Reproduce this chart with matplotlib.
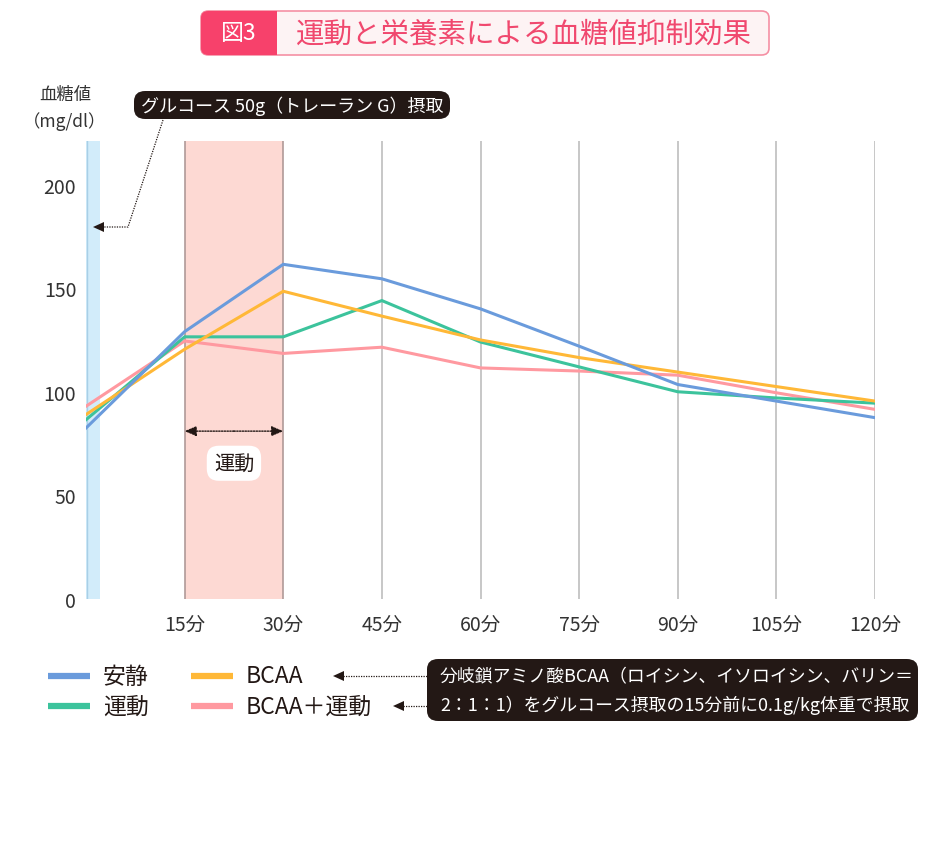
import matplotlib
matplotlib.use("Agg")
import matplotlib.pyplot as plt
from matplotlib.patches import FancyBboxPatch, Polygon

plt.rcParams['font.family'] = ['Noto Sans CJK JP', 'DejaVu Sans']

minutes = [0, 15, 30, 45, 60, 75, 90, 105, 120]
tick_minutes = [15, 30, 45, 60, 75, 90, 105, 120]
tick_labels = ["15分", "30分", "45分", "60分", "75分", "90分", "105分", "120分"]
y_ticks = [0, 50, 100, 150, 200]

series_names = ["安静", "運動", "BCAA", "BCAA＋運動"]
rest = [82.5, 129, 161.5, 154.5, 140, 122, 103.5, 95.5, 87.5]
exercise = [86.5, 126.5, 126.5, 144, 124, 112, 100, 97, 94.5]
bcaa = [89, 120.5, 148.5, 136.5, 125, 116.5, 109.5, 102.5, 95.5]
bcaa_ex = [93, 124.5, 118.5, 121.5, 111.5, 110, 108, 99.5, 91.5]
colors = ["#6a9bdc", "#3cc39c", "#ffb837", "#ff99a0"]

W, H = 933, 854
fig = plt.figure(figsize=(W / 100, H / 100), dpi=100)

def fx(px):
    return px / W

def fy(py):
    return 1 - py / H

ax = fig.add_axes([fx(86), fy(600), fx(875) - fx(86), fy(142) - fy(600)])
ax.set_xlim(0, 120)
ax.set_ylim(0, 221)
for s in ax.spines.values():
    s.set_visible(False)

# bands
ax.axvspan(0, 2.1, color="#d2ecfa", zorder=0, lw=0)
ax.axvline(0.1, color="#a9cfe6", lw=1, zorder=0.5)
ax.axvspan(15, 30, color="#fdd9d3", zorder=0, lw=0)
for m in tick_minutes:
    c = "#b09a98" if m in (15, 30) else "#bdbdbd"
    ax.axvline(m, color=c, lw=1.2, zorder=0.6)

for vals, col in zip([bcaa_ex, exercise, bcaa, rest], [colors[3], colors[1], colors[2], colors[0]]):
    ax.plot(minutes, vals, color=col, lw=2.2, zorder=3, solid_joinstyle="miter")

ax.set_xticks(tick_minutes)
ax.set_xticklabels(tick_labels)
ax.set_yticks(y_ticks)
ax.set_yticklabels([str(v) for v in y_ticks])
ax.tick_params(axis="both", length=0, labelsize=14, colors="#333333")
ax.tick_params(axis="x", pad=11)
ax.tick_params(axis="y", pad=7)

# exercise double arrow
ax.annotate("", xy=(15, 81), xytext=(22.5, 81),
            arrowprops=dict(arrowstyle="-|>,head_length=0.7,head_width=0.3", color="#231815",
                            lw=1, linestyle=(0, (1, 1)), shrinkA=0, shrinkB=0))
ax.annotate("", xy=(30, 81), xytext=(22.5, 81),
            arrowprops=dict(arrowstyle="-|>,head_length=0.7,head_width=0.3", color="#231815",
                            lw=1, linestyle=(0, (1, 1)), shrinkA=0, shrinkB=0))
ax.text(22.5, 65.5, "運動", ha="center", va="center", fontsize=14.5, color="#231815", zorder=5,
        bbox=dict(boxstyle="round,pad=0.35,rounding_size=0.6", fc="white", ec="none"))

# y label
fig.text(fx(65), fy(95), "血糖値", ha="center", va="center", fontsize=12.5, color="#333333")
fig.text(fx(65), fy(122), "（mg/dl）", ha="center", va="center", fontsize=12.5, color="#333333")

# title
fig.patches.append(FancyBboxPatch((fx(201), fy(56)), fx(769) - fx(201), fy(12) - fy(56),
                                  boxstyle="round,pad=0,rounding_size=0.008",
                                  transform=fig.transFigure, fc="#fdf3f4", ec="#f590a4", lw=1.2))
fig.patches.append(FancyBboxPatch((fx(201), fy(56)), fx(277) - fx(201), fy(12) - fy(56),
                                  boxstyle="round,pad=0,rounding_size=0.008",
                                  transform=fig.transFigure, fc="#f7416b", ec="none"))
fig.patches.append(plt.Rectangle((fx(260), fy(56)), fx(277) - fx(260), fy(12) - fy(56),
                                 transform=fig.transFigure, fc="#f7416b", ec="none"))
fig.text(fx(239), fy(34), "図3", ha="center", va="center", fontsize=16.5, color="white")
fig.text(fx(524), fy(34), "運動と栄養素による血糖値抑制効果", ha="center", va="center",
         fontsize=20.5, color="#f0486e")

# glucose annotation
fig.patches.append(FancyBboxPatch((fx(134), fy(120)), fx(450) - fx(134), fy(92) - fy(120),
                                  boxstyle="round,pad=0,rounding_size=0.012",
                                  transform=fig.transFigure, fc="#231815", ec="none"))
fig.text(fx(292), fy(106), "グルコース 50g（トレーラン G）摂取", ha="center", va="center",
         fontsize=13, color="white")
fig.lines.append(plt.Line2D([fx(163), fx(128), fx(104)], [fy(121), fy(228), fy(228)],
                            transform=fig.transFigure, color="#231815", lw=0.9,
                            linestyle=(0, (1, 1))))
fig.patches.append(Polygon([[fx(93), fy(228)], [fx(104), fy(223)], [fx(104), fy(233)]],
                           closed=True, transform=fig.transFigure, fc="#231815", ec="none"))

# legend
leg_rows = [(677, 0, 48, 103), (707, 1, 48, 103), (677, 2, 191, 246), (707, 3, 191, 246)]
for py, idx, lx, tx in leg_rows:
    fig.lines.append(plt.Line2D([fx(lx), fx(lx + 42)], [fy(py), fy(py)], transform=fig.transFigure,
                                color=colors[idx], lw=4.5, solid_capstyle="butt"))
    fig.text(fx(tx), fy(py), series_names[idx], ha="left", va="center", fontsize=16.5,
             color="#231815")

# BCAA note
fig.patches.append(FancyBboxPatch((fx(427), fy(722)), fx(918) - fx(427), fy(660) - fy(722),
                                  boxstyle="round,pad=0,rounding_size=0.012",
                                  transform=fig.transFigure, fc="#231815", ec="none"))
fig.text(fx(440), fy(677), "分岐鎖アミノ酸BCAA（ロイシン、イソロイシン、バリン＝",
         ha="left", va="center", fontsize=12.9, color="white")
fig.text(fx(440), fy(705), "2：1：1）をグルコース摂取の15分前に0.1g/kg体重で摂取",
         ha="left", va="center", fontsize=12.9, color="white")
for py, tip in [(677, 333), (707, 393)]:
    fig.lines.append(plt.Line2D([fx(tip + 10), fx(427)], [fy(py), fy(py)],
                                transform=fig.transFigure, color="#231815", lw=0.9,
                                linestyle=(0, (1, 1))))
    fig.patches.append(Polygon([[fx(tip), fy(py)], [fx(tip + 11), fy(py - 5)], [fx(tip + 11), fy(py + 5)]],
                               closed=True, transform=fig.transFigure, fc="#231815", ec="none"))

fig.savefig("out.png", dpi=100, facecolor="white")
